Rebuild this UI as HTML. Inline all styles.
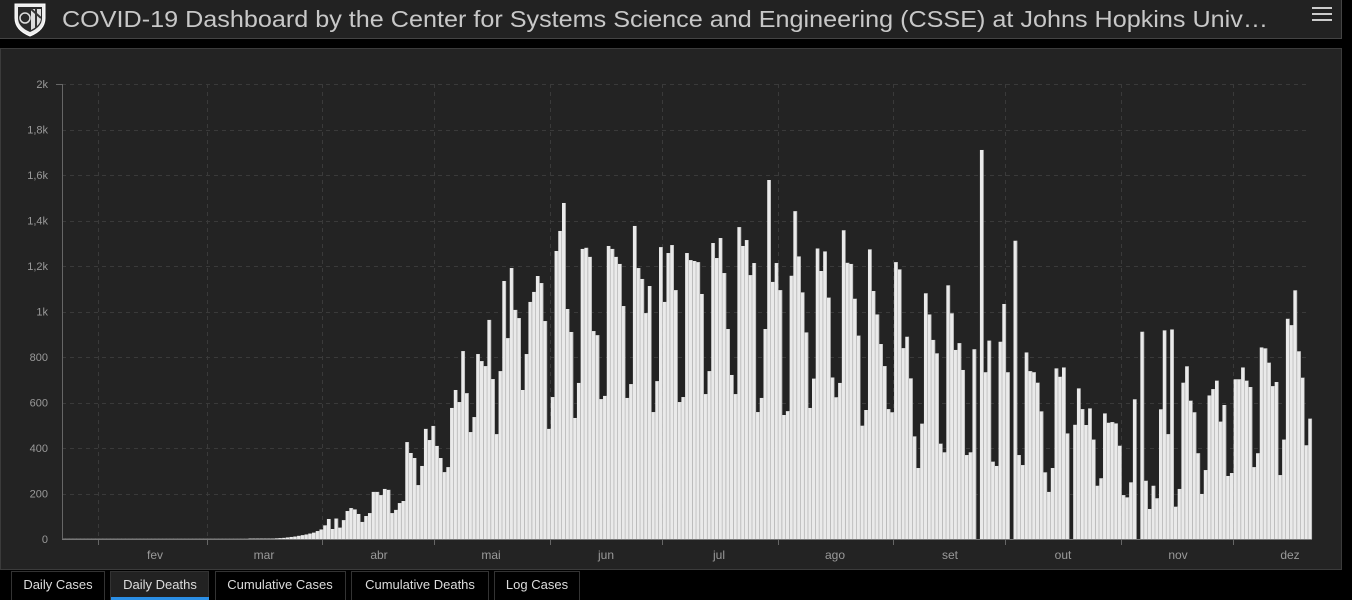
<!DOCTYPE html>
<html><head><meta charset="utf-8"><style>
html,body{margin:0;padding:0;background:#000;width:1352px;height:600px;overflow:hidden}
svg{display:block}
text{font-family:"Liberation Sans",sans-serif}
</style></head><body>
<svg id="s" width="1352" height="600" xmlns="http://www.w3.org/2000/svg">
<rect x="0" y="0" width="1352" height="600" fill="#000"/>
<rect x="0" y="0" width="1342" height="38" fill="#222"/>
<line x1="0" y1="38.5" x2="1342" y2="38.5" stroke="#444"/>
<line x1="1341.5" y1="0" x2="1341.5" y2="38" stroke="#444"/>
<path d="M15 4 H45 V18 Q45 30 30 36 Q15 30 15 18 Z" fill="#eee" stroke="#fff"/>
<path d="M18 7 H42 V18 Q42 27 30 32 Q18 27 18 18 Z" fill="#2a2a2a"/>
<circle cx="25" cy="18" r="5" fill="none" stroke="#ddd" stroke-width="1.5"/>
<path d="M31 9 H41 V18 Q41 25 31 30 Z" fill="#ddd"/>
<path d="M31 9 L41 18 M36 9 V28" stroke="#333" stroke-width="2"/>
<text x="62" y="27" font-size="23" fill="#c8c8c8" textLength="1206" lengthAdjust="spacingAndGlyphs">COVID-19 Dashboard by the Center for Systems Science and Engineering (CSSE) at Johns Hopkins Univ…</text>
<rect x="1312" y="7" width="20" height="2" fill="#ccc"/>
<rect x="1312" y="13" width="20" height="2" fill="#ccc"/>
<rect x="1312" y="19" width="20" height="2" fill="#ccc"/>
<rect x="0.5" y="48.5" width="1341" height="521" fill="#232323" stroke="#3b3b3b"/>
<g id="grid"></g>
<g id="bars"></g>
<line x1="62.5" y1="84" x2="62.5" y2="539" stroke="#666"/>
<line x1="56" y1="84.5" x2="62" y2="84.5" stroke="#666"/>
<line x1="62" y1="539.5" x2="1312" y2="539.5" stroke="#777"/>
<g id="lbl" font-size="11" fill="#9a9a9a"></g>
<g font-size="13" fill="#ddd">
<rect x="11.5" y="571.5" width="93" height="29" fill="#000" stroke="#333"/>
<text x="58" y="589" text-anchor="middle">Daily Cases</text>
<rect x="110.5" y="571.5" width="98" height="29" fill="#222" stroke="#333"/>
<rect x="111" y="597" width="98" height="3" fill="#2b8fe6"/>
<text x="160" y="589" text-anchor="middle">Daily Deaths</text>
<rect x="215.5" y="571.5" width="130" height="29" fill="#000" stroke="#333"/>
<text x="280" y="589" text-anchor="middle">Cumulative Cases</text>
<rect x="351.5" y="571.5" width="137" height="29" fill="#000" stroke="#333"/>
<text x="420" y="589" text-anchor="middle">Cumulative Deaths</text>
<rect x="494.5" y="571.5" width="85" height="29" fill="#000" stroke="#333"/>
<text x="537" y="589" text-anchor="middle">Log Cases</text>
</g>
</svg>
<script>
var pre=[];for(var i=0;i<56;i++)pre.push(i<50?1:2);
pre=pre.concat([2,3,4,5,7,9,11,14,17,20,24,28,35,42,60,88,44,90,50]);
var d=pre.concat([83,123,136,130,110,75,101,114,207,207,193,220,216,114,128,158,167,426,378,356,237,321,484,435,497,409,356,294,316,576,655,602,826,641,470,536,813,782,760,963,703,461,738,1134,883,1191,1007,971,655,813,1042,1086,1156,1125,958,484,624,1266,1354,1477,
1011,910,532,686,1275,1280,1240,914,896,615,629,1288,1275,1240,1209,1024,620,681,1376,1191,1143,993,1112,558,694,1283,1042,1257,1292,1094,602,624,1257,1226,1222,1217,1077,637,738,1301,1235,1323,1169,923,721,637,1371,1288,1314,1160,1213,558,620,923,1578,1130,1213,1094,545,562,
1157,1441,1242,1084,908,576,705,1277,1178,1264,1061,710,623,686,1357,1214,1209,1056,894,498,567,1273,1090,987,857,760,571,557,1217,1185,839,889,706,451,312,507,1080,987,875,816,419,381,1115,992,831,861,743,369,
381,834,0,1710,733,872,340,321,867,1033,733,0,1311,369,325,820,738,733,687,561,293,207,312,750,713,754,464,0,502,662,571,501,574,437,234,267,552,511,514,508,410,193,183,249,614,0,911,256,
132,234,179,570,917,461,921,142,220,687,759,608,557,377,198,303,631,659,696,516,589,277,290,702,702,754,696,668,316,377,842,838,775,672,690,281,437,968,940,1093,825,709,412,529]);
var NS="http://www.w3.org/2000/svg";
function el(p,t,a,txt){var e=document.createElementNS(NS,t);for(var k in a)e.setAttribute(k,a[k]);if(txt!=null)e.textContent=txt;p.appendChild(e);return e;}
var g=document.getElementById('grid'),b=document.getElementById('bars'),l=document.getElementById('lbl');
var x0=62,x1=1312,y0=539,sc=0.2275;
for(var v=200;v<=2000;v+=200){var y=Math.round(y0-v*sc)+0.5;el(g,'line',{x1:62,y1:y,x2:1310,y2:y,stroke:'#3a3a3a','stroke-dasharray':'4,4'});}
var months=[98,207,322,434,550,662,778,893,1005,1121,1233];
months.forEach(function(x){el(g,'line',{x1:x+0.5,y1:84,x2:x+0.5,y2:539,stroke:'#3a3a3a','stroke-dasharray':'4,4'});el(g,'line',{x1:x+0.5,y1:539,x2:x+0.5,y2:545,stroke:'#666'});});
var labs=['0','200','400','600','800','1k','1,2k','1,4k','1,6k','1,8k','2k'];
labs.forEach(function(t,i){el(l,'text',{x:48,y:y0-i*200*sc+4,'text-anchor':'end'},t);});
var mn=[['fev',155],['mar',264],['abr',379],['mai',491],['jun',606],['jul',719],['ago',835],['set',950],['out',1063],['nov',1178],['dez',1290]];
mn.forEach(function(m){el(l,'text',{x:m[1],y:559,'text-anchor':'middle','font-size':12},m[0]);});
var w=(x1-x0)/d.length;
d.forEach(function(v,i){if(v<=0)return;var h=v*sc;var x=x0+i*w;
el(b,'rect',{x:x.toFixed(2),y:(y0-h).toFixed(2),width:(w+0.05).toFixed(2),height:h.toFixed(2),fill:'#eaeaea'});
el(b,'rect',{x:(x+w-0.6).toFixed(2),y:(y0-h).toFixed(2),width:0.6,height:h.toFixed(2),fill:'#a8a8a8'});});
</script>
</body></html>
